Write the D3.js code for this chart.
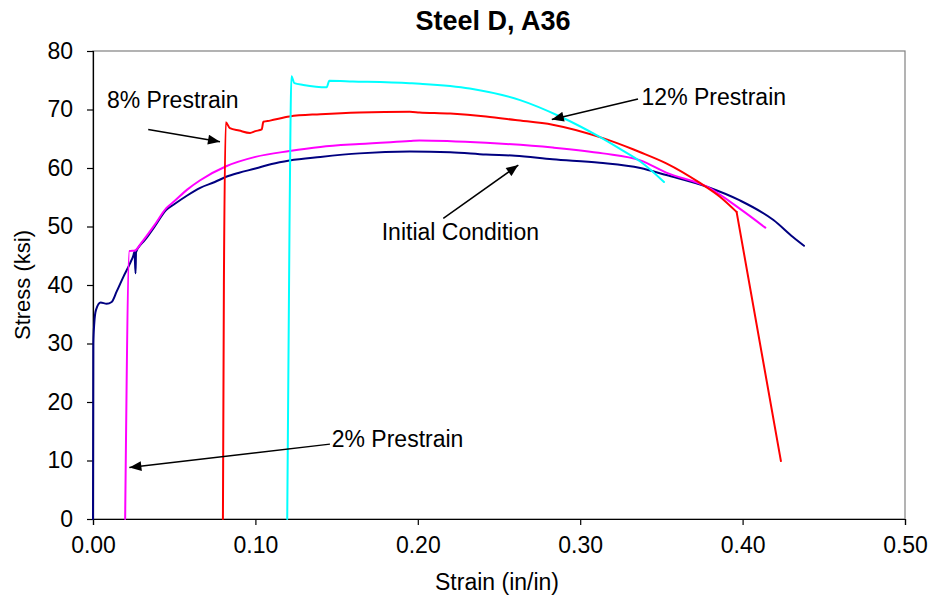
<!DOCTYPE html>
<html>
<head>
<meta charset="utf-8">
<script src="https://cdn.jsdelivr.net/npm/d3@7"></script>
<style>
  html, body { margin: 0; padding: 0; background: #fff; }
  svg { display: block; font-family: "Liberation Sans", Arial, sans-serif; }
</style>
</head>
<body>
<svg id="chart" width="932" height="600"></svg>
<script>
// Stress-strain curves for Steel D (A36), strain in in/in, stress in ksi
const initialStrain = [0, 0.0002, 0.0008, 0.0018, 0.0047, 0.0084, 0.0115, 0.0146, 0.0187, 0.0228, 0.0249, 0.0255, 0.0262, 0.0265, 0.030, 0.032, 0.038, 0.045, 0.050, 0.058, 0.066, 0.075, 0.082, 0.090, 0.100, 0.110, 0.121, 0.140, 0.164, 0.195, 0.220, 0.242, 0.260, 0.283, 0.312, 0.337, 0.353, 0.378, 0.398, 0.419, 0.431, 0.4378];
const initialStress = [0, 30.0, 33.5, 35.7, 37.0, 36.8, 37.1, 38.9, 41.4, 43.7, 45.1, 45.7, 42.0, 45.6, 47.1, 47.7, 50.0, 52.8, 53.8, 55.3, 56.6, 57.6, 58.5, 59.2, 59.9, 60.7, 61.3, 61.9, 62.5, 62.8, 62.7, 62.3, 62.1, 61.5, 60.9, 60.0, 58.8, 56.8, 54.5, 51.1, 48.2, 46.7];

const pre2Strain = [0.0198, 0.0224, 0.0258, 0.030, 0.038, 0.045, 0.050, 0.058, 0.066, 0.082, 0.100, 0.121, 0.140, 0.164, 0.195, 0.201, 0.242, 0.283, 0.314, 0.337, 0.353, 0.378, 0.398, 0.414];
const pre2Stress = [0, 45.8, 45.9, 47.3, 50.3, 53.1, 54.3, 56.3, 57.9, 60.3, 61.9, 62.9, 63.6, 64.1, 64.6, 64.7, 64.3, 63.5, 62.5, 61.3, 59.2, 56.8, 53.1, 49.8];

const pre8Strain = [0.0800, 0.0806, 0.0818, 0.0843, 0.0900, 0.0967, 0.1000, 0.1039, 0.1049, 0.1090, 0.1210, 0.1400, 0.1640, 0.1950, 0.2010, 0.2200, 0.2420, 0.2600, 0.2830, 0.3140, 0.3325, 0.3370, 0.3530, 0.3740, 0.3860, 0.3963, 0.4236];
const pre8Stress = [0, 40.0, 67.8, 66.8, 66.4, 66.0, 66.3, 66.6, 67.9, 68.1, 68.8, 69.2, 69.5, 69.6, 69.5, 69.3, 68.8, 68.2, 67.4, 65.1, 63.2, 62.7, 60.8, 57.4, 55.1, 52.5, 9.9];

const pre12Strain = [0.1196, 0.1210, 0.1222, 0.1240, 0.1295, 0.1439, 0.1455, 0.1600, 0.1950, 0.2014, 0.2320, 0.2630, 0.2876, 0.3120, 0.3260, 0.3370, 0.3516];
const pre12Stress = [0, 50.0, 75.7, 74.5, 74.2, 73.8, 74.9, 74.8, 74.5, 74.4, 73.6, 71.6, 68.8, 65.3, 63.0, 61.1, 57.6];

const seriesNames = ["Initial Condition", "2% Prestrain", "8% Prestrain", "12% Prestrain"];
const seriesColors = ["#000080", "#FF00FF", "#FF0000", "#00FFFF"];
// Series whose last point is a sudden fracture drop (drawn as a straight segment)
const endsWithFracture = [false, false, true, false];

const xTicks = [0, 0.1, 0.2, 0.3, 0.4, 0.5];
const yTicks = [0, 10, 20, 30, 40, 50, 60, 70, 80];

// Callout labels: anchor of text and arrow from/to, all in data units
const calloutText = ["8% Prestrain", "12% Prestrain", "Initial Condition", "2% Prestrain"];
const calloutTextAt = [[0.0086, 70.3], [0.3378, 70.8], [0.1778, 47.7], [0.1470, 12.3]];
const calloutFrom = [[0.0340, 66.6], [0.3356, 71.8], [0.2157, 51.4], [0.1459, 12.8]];
const calloutTo = [[0.0782, 64.5], [0.2825, 68.3], [0.2619, 60.5], [0.0224, 8.8]];

const svg = d3.select("#chart");
const plot = { left: 93, right: 905, top: 51, bottom: 519 };
const FONT = '"Liberation Sans", Arial, sans-serif';

const x = d3.scaleLinear().domain([0, 0.5]).range([plot.left, plot.right]);
const y = d3.scaleLinear().domain([0, 80]).range([plot.bottom, plot.top]);

// Plot frame
svg.append("rect")
  .attr("x", plot.left).attr("y", plot.top)
  .attr("width", plot.right - plot.left).attr("height", plot.bottom - plot.top)
  .attr("fill", "none").attr("stroke", "#808080").attr("stroke-width", 1.2);

// Axes
const xAxis = svg.append("g")
  .attr("transform", `translate(0,${plot.bottom})`)
  .call(d3.axisBottom(x).tickValues(xTicks).tickFormat(d3.format(".2f")).tickSize(6).tickPadding(12));
const yAxis = svg.append("g")
  .attr("transform", `translate(${plot.left},0)`)
  .call(d3.axisLeft(y).tickValues(yTicks).tickSize(6).tickPadding(14));

[xAxis, yAxis].forEach(g => {
  g.select(".domain").attr("stroke", "#000").attr("stroke-width", 1.2);
  g.selectAll(".tick line").attr("stroke", "#000").attr("stroke-width", 1.2);
  g.selectAll(".tick text").attr("fill", "#000").style("font-size", "23px").style("font-family", FONT);
});

// Curves
const allStrain = [initialStrain, pre2Strain, pre8Strain, pre12Strain];
const allStress = [initialStress, pre2Stress, pre8Stress, pre12Stress];
const smooth = d3.line().x(d => x(d[0])).y(d => y(d[1])).curve(d3.curveMonotoneX);
const straight = d3.line().x(d => x(d[0])).y(d => y(d[1]));

[0, 1, 2, 3].forEach(i => {
  const pts = allStrain[i].map((s, k) => [s, allStress[i][k]]);
  const body = endsWithFracture[i] ? pts.slice(0, -1) : pts;
  const g = svg.append("g").attr("data-name", seriesNames[i]);
  const styleLine = sel => sel
    .attr("fill", "none")
    .attr("stroke", seriesColors[i])
    .attr("stroke-width", 2)
    .attr("stroke-linejoin", "round")
    .attr("stroke-linecap", "round");
  g.append("path").datum(body).attr("d", smooth).call(styleLine);
  if (endsWithFracture[i]) {
    g.append("path").datum(pts.slice(-2)).attr("d", straight).call(styleLine);
  }
});

// Arrowhead marker
svg.append("defs").append("marker")
  .attr("id", "arrowhead")
  .attr("viewBox", "0 0 12 10")
  .attr("refX", 12).attr("refY", 5)
  .attr("markerWidth", 13).attr("markerHeight", 10)
  .attr("markerUnits", "userSpaceOnUse")
  .attr("orient", "auto")
  .append("path")
  .attr("d", "M0,0 L12,5 L0,10 Z")
  .attr("fill", "#000");

// Callouts
calloutText.forEach((t, i) => {
  svg.append("line")
    .attr("x1", x(calloutFrom[i][0])).attr("y1", y(calloutFrom[i][1]))
    .attr("x2", x(calloutTo[i][0])).attr("y2", y(calloutTo[i][1]))
    .attr("stroke", "#000").attr("stroke-width", 1.5)
    .attr("marker-end", "url(#arrowhead)");
  svg.append("text")
    .attr("x", x(calloutTextAt[i][0])).attr("y", y(calloutTextAt[i][1]))
    .attr("font-size", 23)
    .attr("fill", "#000")
    .text(t);
});

// Titles
svg.append("text")
  .attr("x", 493).attr("y", 30)
  .attr("text-anchor", "middle")
  .attr("font-size", 27).attr("font-weight", "bold")
  .text("Steel D, A36");

svg.append("text")
  .attr("x", 497).attr("y", 590)
  .attr("text-anchor", "middle")
  .attr("font-size", 23)
  .text("Strain (in/in)");

svg.append("text")
  .attr("transform", `translate(30,${(plot.top + plot.bottom) / 2}) rotate(-90)`)
  .attr("text-anchor", "middle")
  .attr("font-size", 22)
  .text("Stress (ksi)");
</script>
</body>
</html>
